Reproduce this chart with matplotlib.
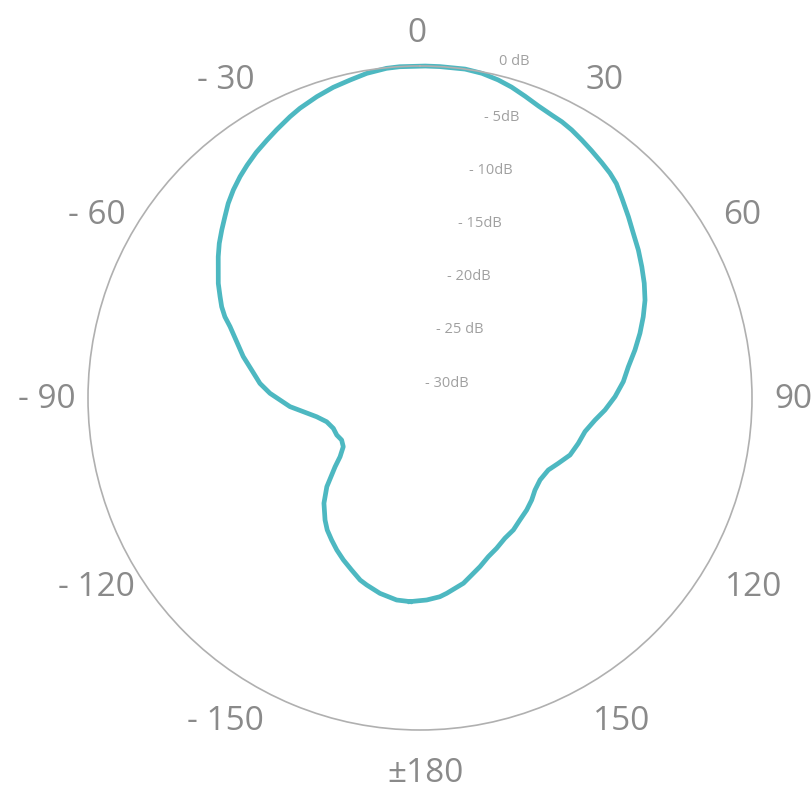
import numpy as np
import matplotlib
matplotlib.use("Agg")
import matplotlib.pyplot as plt

plt.rcParams['font.family'] = ['Open Sans', 'DejaVu Sans']

# pattern readings: angle in degrees (clockwise from front), level in dB
angles_deg = [-177.2, -173.4, -168.4, -164.1, -161.8, -158.3, -154.7, -151.3, -148.1, -144.9,
              -142.1, -137.6, -133.6, -131.1, -129.0, -126.3, -122.4, -118.2, -114.0, -109.3,
              -104.3, -100.3, -96.7, -93.8, -90.8, -88.2, -84.8, -80.6, -76.8, -72.9,
              -69.4, -67.4, -65.3, -63.1, -60.4, -57.6, -55.0, -52.4, -49.7, -47.1,
              -44.6, -41.9, -39.1, -36.6, -33.7, -30.7, -28.1, -24.8, -22.5, -18.9,
              -15.6, -12.4, -9.3, -5.8, -3.5, 0.9, 3.4, 7.8, 10.8, 13.8,
              16.4, 19.2, 22.1, 25.0, 27.2, 29.5, 32.1, 34.7, 37.7, 40.2,
              42.5, 45.3, 49.0, 52.3, 55.9, 59.4, 62.9, 66.5, 70.0, 73.6,
              77.4, 81.5, 85.4, 89.6, 93.7, 97.2, 101.5, 106.0, 110.8, 115.3,
              119.3, 124.3, 128.7, 132.4, 136.4, 140.7, 144.7, 148.8, 153.0, 156.7,
              160.4, 163.7, 166.8, 172.2, 174.3, 178.1]
level_db = [-12.35, -12.4, -12.78, -13.26, -13.53, -14.16, -14.73, -15.3, -15.88, -16.45,
            -17.1, -18.27, -19.6, -20.7, -21.47, -22.44, -23.24, -23.43, -23.22, -23.15,
            -22.72, -21.88, -20.68, -19.44, -18.5, -17.53, -16.51, -15.56, -14.5, -13.51,
            -12.44, -11.63, -10.96, -10.39, -9.64, -8.97, -8.26, -7.58, -6.95, -6.33,
            -5.67, -5.06, -4.5, -4.05, -3.55, -3.1, -2.68, -2.13, -1.77, -1.3,
            -0.91, -0.62, -0.29, -0.06, -0.01, 0.0, 0.0, 0.0, -0.14, -0.43,
            -0.76, -1.2, -1.63, -1.92, -2.07, -2.31, -2.65, -2.98, -3.34, -3.63,
            -3.98, -4.62, -5.38, -6.02, -6.58, -7.16, -7.72, -8.35, -9.1, -9.9,
            -10.77, -11.7, -12.34, -13.2, -14.13, -15.0, -15.77, -16.13, -16.53, -17.26,
            -17.82, -17.99, -17.8, -17.42, -17.09, -16.8, -16.42, -16.2, -15.74, -15.35,
            -14.75, -14.23, -13.66, -13.0, -12.75, -12.52]

angle_labels = ['0', '30', '60', '90', '120', '150', '\u00b1180',
                '- 150', '- 120', '- 90', '- 60', '- 30']
db_labels = ['0 dB', '- 5dB', '- 10dB', '- 15dB', '- 20dB', '- 25 dB', '- 30dB']

R_MIN = -32.0
curve_color = '#4db8c1'

fig = plt.figure(figsize=(8.12, 7.88), dpi=100)
# polar area: 664 px circle centred at (420, 398)
ax = fig.add_axes([88 / 812, 58 / 788, 664 / 812, 664 / 788], projection='polar')
ax.set_theta_zero_location('N')
ax.set_theta_direction(-1)
ax.set_ylim(R_MIN, 0)
ax.set_xticks([])
ax.set_yticks([])
ax.grid(False)
ax.spines['polar'].set_color('#b0b0b0')
ax.spines['polar'].set_linewidth(1.2)

theta = np.deg2rad(angles_deg + angles_deg[:1])
levels = level_db + level_db[:1]
ax.plot(theta, levels, color=curve_color, lw=3.4, solid_joinstyle='round',
        clip_on=False)


def px_to_axes(px, py):
    return (px - 88) / 664, (730 - py) / 664


# angle labels around the outside (pixel centres in the 812x788 frame)
angle_pos = [(417, 29), (605, 76), (742, 211), (793, 395), (754, 583), (622, 717),
             (426, 769), (225, 717), (96, 583), (47, 395), (97, 211), (226, 76)]
for (px, py), lab in zip(angle_pos, angle_labels):
    xf, yf = px_to_axes(px, py)
    ax.text(xf, yf, lab, transform=ax.transAxes, ha='center', va='center_baseline',
            fontsize=24, color='#8a8a8a', clip_on=False)

# dB scale labels
db_pos = [(514, 59), (502, 115), (491, 168), (480, 221), (469, 274), (460, 327), (447, 381)]
for (px, py), lab in zip(db_pos, db_labels):
    xf, yf = px_to_axes(px, py)
    ax.text(xf, yf, lab, transform=ax.transAxes, ha='center', va='center_baseline',
            fontsize=10.5, color='#a0a0a0')

fig.savefig('out.png', dpi=100, facecolor='white')
